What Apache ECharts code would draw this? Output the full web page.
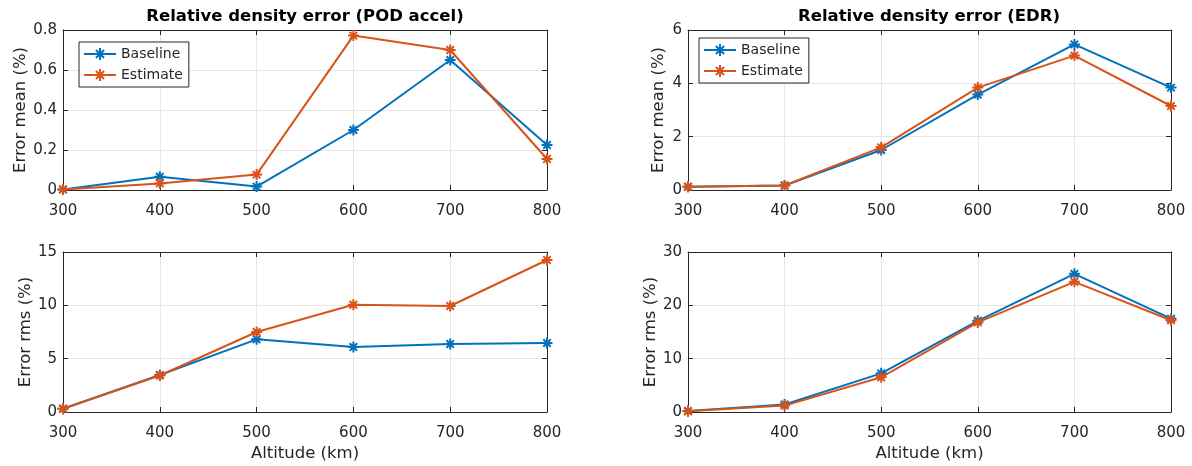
<!DOCTYPE html>
<html>
<head>
<meta charset="utf-8">
<script src="https://cdn.jsdelivr.net/npm/echarts@6/dist/echarts.min.js"></script>
<style>
html,body{margin:0;padding:0;background:#fff;}
#chart{width:1192px;height:466px;}
</style>
</head>
<body>
<div id="chart"></div>
<script>
// ---- data ----
const altitudes = [300, 400, 500, 600, 700, 800];
const xTicks = [300, 400, 500, 600, 700, 800];
const seriesNames = ['Baseline', 'Estimate'];
const podMeanBaseline = [0.003, 0.066, 0.017, 0.30, 0.65, 0.225];
const podMeanEstimate = [0.003, 0.033, 0.077, 0.772, 0.70, 0.155];
const edrMeanBaseline = [0.12, 0.17, 1.5, 3.58, 5.46, 3.84];
const edrMeanEstimate = [0.12, 0.17, 1.6, 3.84, 5.04, 3.15];
const podRmsBaseline = [0.31, 3.47, 6.81, 6.1, 6.38, 6.47];
const podRmsEstimate = [0.3, 3.42, 7.5, 10.06, 9.94, 14.25];
const edrRmsBaseline = [0.2, 1.4, 7.25, 17.1, 25.9, 17.5];
const edrRmsEstimate = [0.15, 1.2, 6.5, 16.8, 24.4, 17.2];
const titles = ['Relative density error (POD accel)', 'Relative density error (EDR)'];
const yNames = ['Error mean (%)', 'Error mean (%)', 'Error rms (%)', 'Error rms (%)'];
const xName = 'Altitude (km)';
const yRanges = [[0, 0.8, 0.2], [0, 6, 2], [0, 15, 5], [0, 30, 10]];

// ---- layout / style ----
const FONT = '"DejaVu Sans", "Liberation Sans", Arial, sans-serif';
const TXT = '#262626';
const COLORS = ['#0072BD', '#D95319'];
const grids = [
  {left: 63, top: 30, width: 484, height: 160},
  {left: 688, top: 30, width: 483, height: 160},
  {left: 63, top: 252, width: 484, height: 160},
  {left: 688, top: 252, width: 483, height: 160}
];
const yNameGaps = [34, 21, 28, 29];
const STAR = 'path://M5 0 L5 10 M0 5 L10 5 M1.6 1.6 L8.4 8.4 M1.6 8.4 L8.4 1.6';

const xAxes = [], yAxes = [], series = [];
const dataSets = [
  [podMeanBaseline, podMeanEstimate],
  [edrMeanBaseline, edrMeanEstimate],
  [podRmsBaseline, podRmsEstimate],
  [edrRmsBaseline, edrRmsEstimate]
];

grids.forEach((g, i) => {
  const [ymin, ymax, yint] = yRanges[i];
  const axLine = {show: true, onZero: false, lineStyle: {color: TXT, width: 1}};
  const tick = {show: true, inside: true, length: 5, lineStyle: {color: TXT, width: 1}};
  xAxes.push({
    type: 'value', gridIndex: i, position: 'bottom', min: 300, max: 800, interval: 100,
    axisLine: axLine, axisTick: tick,
    axisLabel: {color: TXT, fontSize: 15, fontFamily: FONT, margin: 14},
    splitLine: {show: true, lineStyle: {color: '#e6e6e6', width: 1}},
    name: i >= 2 ? xName : '', nameLocation: 'middle', nameGap: 33,
    nameTextStyle: {color: TXT, fontSize: 16.5, fontFamily: FONT}
  });
  xAxes.push({
    type: 'value', gridIndex: i, position: 'top', min: 300, max: 800, interval: 100,
    axisLine: axLine, axisTick: tick, axisLabel: {show: false}, splitLine: {show: false}
  });
  yAxes.push({
    type: 'value', gridIndex: i, position: 'left', min: ymin, max: ymax, interval: yint,
    axisLine: axLine, axisTick: tick,
    axisLabel: {color: TXT, fontSize: 15, fontFamily: FONT, margin: 6},
    splitLine: {show: true, lineStyle: {color: '#e6e6e6', width: 1}},
    name: yNames[i], nameLocation: 'middle', nameGap: yNameGaps[i],
    nameTextStyle: {color: TXT, fontSize: 16.5, fontFamily: FONT}
  });
  yAxes.push({
    type: 'value', gridIndex: i, position: 'right', min: ymin, max: ymax, interval: yint,
    axisLine: axLine, axisTick: tick, axisLabel: {show: false}, splitLine: {show: false}
  });
  dataSets[i].forEach((vals, k) => {
    series.push({
      type: 'line', name: seriesNames[k],
      xAxisIndex: i * 2, yAxisIndex: i * 2,
      data: altitudes.map((a, j) => [a, vals[j]]),
      symbol: STAR, symbolSize: 11, showSymbol: true,
      lineStyle: {color: COLORS[k], width: 2},
      itemStyle: {color: COLORS[k], borderColor: COLORS[k], borderWidth: 2},
      emphasis: {disabled: true},
      z: 2 + k
    });
  });
});

const legendBase = {
  orient: 'vertical', data: seriesNames,
  backgroundColor: '#fff', borderColor: TXT, borderWidth: 1,
  padding: [5, 6, 5, 4], itemGap: 7, itemWidth: 32, itemHeight: 15,
  textStyle: {color: TXT, fontSize: 14, fontFamily: FONT},
  selectedMode: false
};

const option = {
  animation: false,
  backgroundColor: '#fff',
  title: [
    {text: titles[0], left: 305, top: 8, textAlign: 'center', padding: 0,
     textStyle: {color: '#000', fontSize: 16.5, fontWeight: 'bold', fontFamily: FONT}},
    {text: titles[1], left: 929, top: 8, textAlign: 'center', padding: 0,
     textStyle: {color: '#000', fontSize: 16.5, fontWeight: 'bold', fontFamily: FONT}}
  ],
  legend: [
    Object.assign({}, legendBase, {left: 79, top: 42}),
    Object.assign({}, legendBase, {left: 699, top: 38})
  ],
  grid: grids,
  xAxis: xAxes,
  yAxis: yAxes,
  series: series
};

const chart = echarts.init(document.getElementById('chart'), null, {renderer: 'canvas'});
chart.setOption(option);
</script>
</body>
</html>
